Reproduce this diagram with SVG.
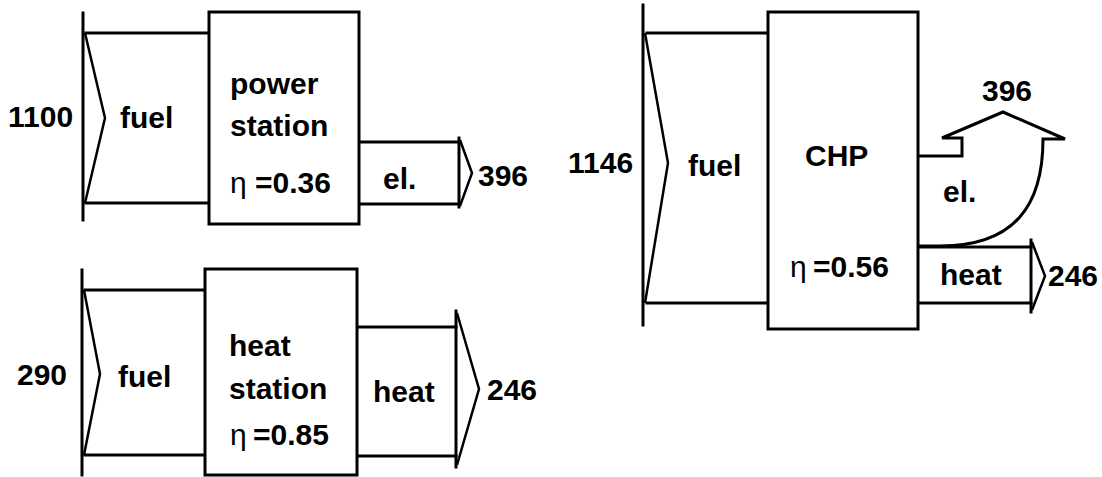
<svg xmlns="http://www.w3.org/2000/svg" width="1102" height="477" viewBox="0 0 1102 477">
<style>
  .ln { fill: none; stroke: #000; stroke-width: 3; stroke-linecap: square; }
  .ch { fill: none; stroke: #000; stroke-width: 2.5; stroke-linejoin: miter; }
  .box { fill: #fff; stroke: #000; stroke-width: 3; }
  .t { font-family: "Liberation Sans", Arial, sans-serif; font-weight: bold; font-size: 30px; fill: #000; }
  .eta { font-family: "Liberation Sans", Arial, sans-serif; font-weight: normal; font-size: 30px; fill: #000; }
</style>
<rect width="1102" height="477" fill="#fff"/>

<g id="connectors">
  <!-- top-left fuel input -->
  <g id="fuel-in-power">
    <line class="ln" x1="83" y1="13" x2="83" y2="220"/>
    <polyline class="ch" points="85,33 105,118 85,203"/>
    <line class="ln" x1="86" y1="33" x2="209" y2="33"/>
    <line class="ln" x1="86" y1="203" x2="209" y2="203"/>
    <text class="t" x="8" y="127">1100</text>
    <text class="t" x="120" y="128">fuel</text>
  </g>
  <!-- top-left el output -->
  <g id="el-out-power">
    <line class="ln" x1="359" y1="142" x2="459" y2="142"/>
    <line class="ln" x1="359" y1="204" x2="459" y2="204"/>
    <line class="ln" x1="459" y1="138" x2="459" y2="207"/>
    <polyline class="ch" points="460,140 472,173 460,206"/>
    <text class="t" x="383" y="189">el.</text>
    <text class="t" x="478" y="186">396</text>
  </g>
  <!-- bottom-left fuel input -->
  <g id="fuel-in-heat">
    <line class="ln" x1="82" y1="270" x2="82" y2="475"/>
    <polyline class="ch" points="84,290 100,374 84,455"/>
    <line class="ln" x1="85" y1="290" x2="205" y2="290"/>
    <line class="ln" x1="85" y1="455" x2="205" y2="455"/>
    <text class="t" x="17" y="385">290</text>
    <text class="t" x="118" y="387">fuel</text>
  </g>
  <!-- bottom-left heat output -->
  <g id="heat-out-heat">
    <line class="ln" x1="357" y1="327" x2="456" y2="327"/>
    <line class="ln" x1="357" y1="456" x2="456" y2="456"/>
    <line class="ln" x1="456" y1="311" x2="456" y2="467"/>
    <polyline class="ch" points="457,313 479,389 457,465"/>
    <text class="t" x="373" y="402">heat</text>
    <text class="t" x="487" y="400">246</text>
  </g>
  <!-- right fuel input -->
  <g id="fuel-in-chp">
    <line class="ln" x1="643" y1="5" x2="643" y2="325"/>
    <polyline class="ch" points="645,33 668,163 645,303"/>
    <line class="ln" x1="647" y1="33" x2="768" y2="33"/>
    <line class="ln" x1="647" y1="303" x2="768" y2="303"/>
    <text class="t" x="568" y="173">1146</text>
    <text class="t" x="688" y="176">fuel</text>
  </g>
  <!-- right el output (curved up arrow) -->
  <g id="el-out-chp">
    <path class="ln" style="stroke-linecap:butt;stroke-linejoin:miter" d="M918,156 H962 V138 H942 L1003,112 L1065,139 H1043 C1043,205 1015,246 940,246 H918"/>
    <text class="t" x="943" y="202">el.</text>
    <text class="t" x="982" y="101">396</text>
  </g>
  <!-- right heat output -->
  <g id="heat-out-chp">
    <line class="ln" x1="918" y1="247" x2="1031" y2="247"/>
    <line class="ln" x1="918" y1="303" x2="1031" y2="303"/>
    <line class="ln" x1="1031" y1="240" x2="1031" y2="312"/>
    <polyline class="ch" points="1032,242 1045,276 1032,310"/>
    <text class="t" x="940" y="285">heat</text>
    <text class="t" x="1048" y="286">246</text>
  </g>
</g>

<g id="node-power-station">
  <rect class="box" x="209" y="12" width="150" height="212"/>
  <text class="t" x="230" y="94">power</text>
  <text class="t" x="230" y="136">station</text>
  <text class="eta" x="230" y="193">η</text>
  <text class="t" x="255" y="193">=0.36</text>
</g>

<g id="node-heat-station">
  <rect class="box" x="205" y="269" width="152" height="206"/>
  <text class="t" x="229" y="356">heat</text>
  <text class="t" x="229" y="399">station</text>
  <text class="eta" x="230" y="445">η</text>
  <text class="t" x="253" y="445">=0.85</text>
</g>

<g id="node-chp">
  <rect class="box" x="768" y="12" width="150" height="317"/>
  <text class="t" x="805" y="166">CHP</text>
  <text class="eta" x="790" y="277">η</text>
  <text class="t" x="813" y="277">=0.56</text>
</g>
</svg>
